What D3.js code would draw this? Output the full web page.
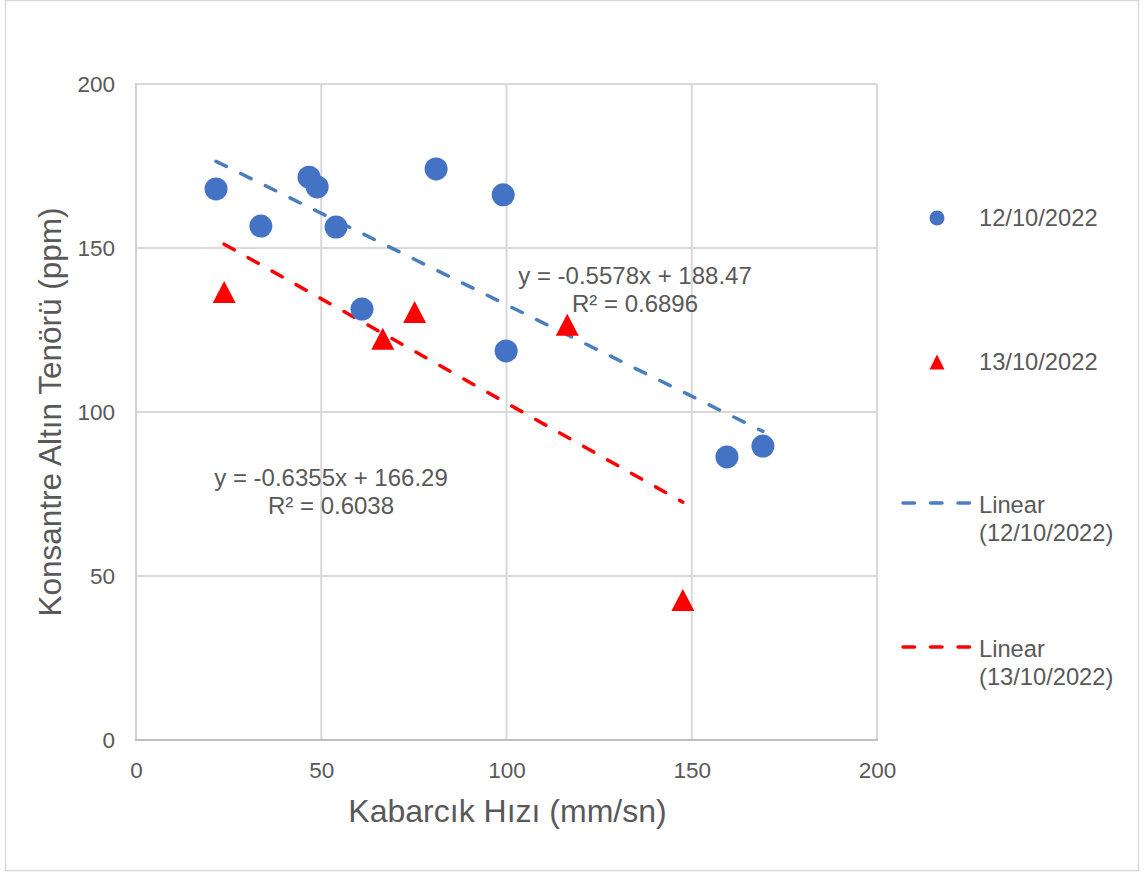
<!DOCTYPE html>
<html>
<head>
<meta charset="utf-8">
<script src="https://cdn.jsdelivr.net/npm/d3@7"></script>
<style>
  html, body { margin: 0; padding: 0; background: #fff; }
  svg { display: block; font-family: "Liberation Sans", Arial, sans-serif; }
</style>
</head>
<body>
<svg id="chart" width="1144" height="874"></svg>
<script>
// ---- data ----
const seriesNames = ["12/10/2022", "13/10/2022"];
const trendNames = ["Linear", "(12/10/2022)", "Linear", "(13/10/2022)"];
const blueX = [21.6, 33.7, 46.7, 48.9, 54.0, 61.0, 81.0, 99.1, 99.9, 159.5, 169.2];
const blueY = [168.0, 156.7, 171.6, 168.6, 156.4, 131.4, 174.1, 166.2, 118.6, 86.3, 89.6];
const redX = [23.8, 66.6, 75.2, 116.4, 147.6];
const redY = [136.6, 122.3, 130.5, 126.6, 42.7];
const blueTrend = [-0.5578, 188.47];   // slope, intercept
const redTrend = [-0.6355, 166.29];
const blueEq = ["y = -0.5578x + 188.47", "R² = 0.6896"];
const redEq = ["y = -0.6355x + 166.29", "R² = 0.6038"];
const xTicks = [0, 50, 100, 150, 200];
const yTicks = [0, 50, 100, 150, 200];
const xTitle = "Kabarcık Hızı (mm/sn)";
const yTitle = "Konsantre Altın Tenörü (ppm)";

// ---- layout ----
const svg = d3.select("#chart");
const L = 136, R = 877, T = 84, B = 740;
const x = d3.scaleLinear().domain([0, 200]).range([L, R]);
const y = d3.scaleLinear().domain([0, 200]).range([B, T]);
const textColor = "#595959";
const blue = "#4472C4", blueLine = "#4a7ebf", red = "#FF0000";

// outer border
svg.append("rect").attr("x", 5.5).attr("y", 0.5).attr("width", 1133).attr("height", 870)
  .attr("fill", "#fff").attr("stroke", "#d9d9d9").attr("stroke-width", 1.5);

// gridlines
const grid = svg.append("g");
grid.selectAll("line.v").data(xTicks.filter(d => d > 0)).join("line")
  .attr("x1", d => x(d)).attr("x2", d => x(d)).attr("y1", T).attr("y2", B)
  .attr("stroke", "#d9d9d9").attr("stroke-width", 2);
grid.selectAll("line.h").data(yTicks.filter(d => d > 0)).join("line")
  .attr("y1", d => y(d)).attr("y2", d => y(d)).attr("x1", L).attr("x2", R)
  .attr("stroke", "#d9d9d9").attr("stroke-width", 2);
// axes lines
svg.append("line").attr("x1", L).attr("x2", L).attr("y1", T - 1).attr("y2", B + 1)
  .attr("stroke", "#d0d0d0").attr("stroke-width", 2);
svg.append("line").attr("x1", L - 1).attr("x2", R + 1).attr("y1", B).attr("y2", B)
  .attr("stroke", "#bfbfbf").attr("stroke-width", 2);

// axes ticks via d3 axis
const xAxis = svg.append("g").attr("transform", `translate(0,${B})`)
  .call(d3.axisBottom(x).tickValues(xTicks).tickSize(0).tickPadding(22));
const yAxis = svg.append("g").attr("transform", `translate(${L},0)`)
  .call(d3.axisLeft(y).tickValues(yTicks).tickSize(0).tickPadding(21));
[xAxis, yAxis].forEach(a => {
  a.select(".domain").remove();
  a.selectAll("text").attr("font-size", 22.5).attr("fill", textColor)
    .attr("font-family", "'Liberation Sans', Arial, sans-serif");
});

// axis titles
svg.append("text").attr("x", (L + R) / 2 + 1).attr("y", 822).attr("text-anchor", "middle")
  .attr("font-size", 32).attr("fill", textColor).text(xTitle);
svg.append("text").attr("transform", `translate(61,${(T + B) / 2 + 0}) rotate(-90)`)
  .attr("text-anchor", "middle").attr("font-size", 31.5).attr("fill", textColor).text(yTitle);

// trendlines
function trendLine(xs, coef, color) {
  const ext = d3.extent(xs);
  const pts = ext.map(v => [v, coef[0] * v + coef[1]]);
  svg.append("path").datum(pts)
    .attr("d", d3.line().x(d => x(d[0])).y(d => y(d[1])))
    .attr("fill", "none").attr("stroke", color).attr("stroke-width", 3.5)
    .attr("stroke-dasharray", "11.5,16").attr("stroke-linecap", "round");
}
trendLine(blueX, blueTrend, blueLine);
trendLine(redX, redTrend, red);

// triangle symbol (bbox centred)
const tri = (w, h) => ({ draw(ctx) { ctx.moveTo(0, -h / 2); ctx.lineTo(w / 2, h / 2); ctx.lineTo(-w / 2, h / 2); ctx.closePath(); } });

// points
const blueData = blueX.map((v, i) => [v, blueY[i]]);
const redData = redX.map((v, i) => [v, redY[i]]);
svg.append("g").selectAll("circle").data(blueData).join("circle")
  .attr("cx", d => x(d[0])).attr("cy", d => y(d[1])).attr("r", 11.5).attr("fill", blue);
svg.append("g").selectAll("path").data(redData).join("path")
  .attr("transform", d => `translate(${x(d[0])},${y(d[1])})`)
  .attr("d", d3.symbol().type(tri(23, 22))()).attr("fill", red);

// equations
function eq(lines, cx, by) {
  const t = svg.append("text").attr("text-anchor", "middle").attr("font-size", 24).attr("fill", textColor);
  lines.forEach((s, i) => t.append("tspan").attr("x", cx).attr("y", by + i * 27.5).text(s));
}
eq(blueEq, 635, 284);
eq(redEq, 331, 486);

// legend
const lg = svg.append("g").attr("font-size", 23.7).attr("fill", textColor);
lg.append("circle").attr("cx", 937).attr("cy", 218).attr("r", 7.5).attr("fill", blue);
lg.append("text").attr("x", 979).attr("y", 226).text(seriesNames[0]);
lg.append("path").attr("transform", "translate(937,362)").attr("d", d3.symbol().type(tri(15, 15))()).attr("fill", red);
lg.append("text").attr("x", 979).attr("y", 370).text(seriesNames[1]);
[[503, blueLine, 0], [647, red, 2]].forEach(([ly, c, k]) => {
  lg.append("line").attr("x1", 903).attr("x2", 971).attr("y1", ly).attr("y2", ly)
    .attr("stroke", c).attr("stroke-width", 3.5).attr("stroke-dasharray", "11.5,16").attr("stroke-linecap", "round");
  const t = lg.append("text");
  t.append("tspan").attr("x", 979).attr("y", ly + 10).text(trendNames[k]);
  t.append("tspan").attr("x", 979).attr("y", ly + 37.5).text(trendNames[k + 1]);
});
</script>
</body>
</html>
